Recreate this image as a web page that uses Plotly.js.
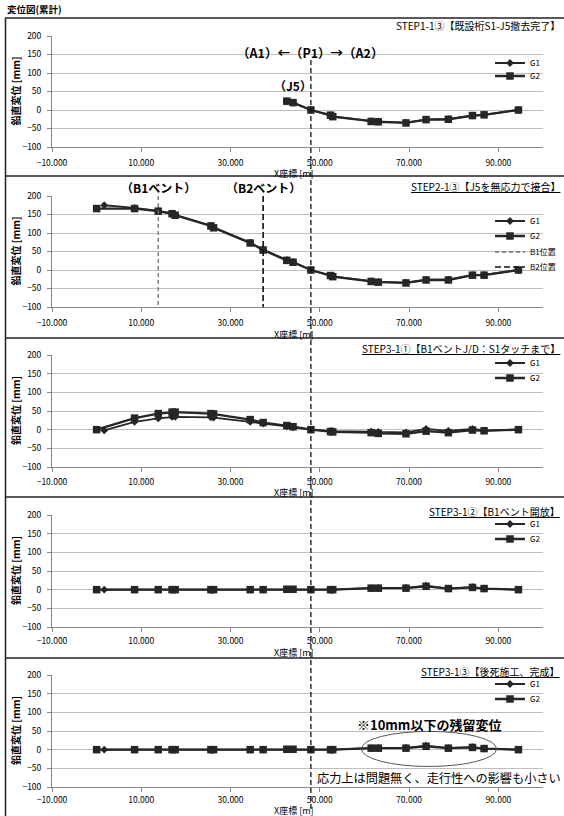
<!DOCTYPE html>
<html>
<head>
<meta charset="utf-8">
<script src="https://cdn.plot.ly/plotly-3.0.1.min.js"></script>
<style>html,body{margin:0;padding:0;background:#fff;}#chart{width:564px;height:816px;}</style>
</head>
<body>
<div id="chart"></div>
<script>
// ---------- data ----------
const xG2 = [0, 8.5, 13.8, 16.9, 17.6, 25.6, 26.2, 34.4, 37.3, 42.6, 44.0, 48.0, 52.4, 52.9, 61.5, 63.1, 69.3, 73.8, 78.8, 84.2, 86.8, 94.5];
const xG1 = [1.7, 8.5, 13.8, 16.9, 17.6, 25.6, 26.2, 34.4, 37.3, 42.6, 44.0, 48.0, 52.4, 52.9, 61.5, 63.1, 69.3, 73.8, 78.8, 84.2, 86.8, 94.5];

const panelTitles = [
  "STEP1-1③【既設桁S1-J5撤去完了】",
  "STEP2-1③【J5を無応力で接合】",
  "STEP3-1①【B1ベントJ/D：S1タッチまで】",
  "STEP3-1②【B1ベント開放】",
  "STEP3-1③【後死施工、完成】"
];

// STEP1-1③
const s1G1 = [null, null, null, null, null, null, null, null, null, 23, 20, 0, -14, -17, -30, -31, -34, -26, -25, -15, -13, 0];
const s1G2 = [null, null, null, null, null, null, null, null, null, 24, 20, 0, -14, -18, -31, -32, -35, -26, -25, -15, -13, 0];
// STEP2-1③
const s2G1 = [175, 168, 160, 153, 149, 120, 115, 74, 55, 27, 22, 0, -15, -17, -30, -32, -34, -26, -26, -14, -13, 0];
const s2G2 = [166, 166, 159, 152, 148, 119, 114, 73, 54, 26, 21, 0, -15, -18, -31, -33, -35, -27, -27, -14, -14, 0];
// STEP3-1①
const s3G1 = [-2, 21, 30, 34, 34, 33, 32, 21, 16, 9, 6, 0, -3, -4, -5, -6, -7, 2, -3, 2, -2, 0];
const s3G2 = [0, 31, 43, 47, 47, 43, 42, 27, 19, 11, 8, 0, -5, -6, -8, -10, -11, -4, -8, -1, -3, 0];
// STEP3-1②
const s4G1 = [0, 0, 0, 0, 0, 0, 0, 0, 0, 1, 1, 0, 0, 0, 4, 5, 5, 11, 3, 7, 3, 0];
const s4G2 = [0, 0, 0, 0, 0, 0, 0, 0, 0, 1, 1, 0, 0, 0, 4, 4, 4, 9, 3, 6, 3, 0];
// STEP3-1③
const s5G1 = [0, 0, 0, 0, 0, 0, 0, 0, 0, 1, 1, 0, 0, 0, 4, 5, 5, 11, 4, 7, 3, 0];
const s5G2 = [0, 0, 0, 0, 0, 0, 0, 0, 0, 1, 1, 0, 0, 0, 4, 4, 4, 9, 4, 6, 3, 0];

const g1Series = [s1G1, s2G1, s3G1, s4G1, s5G1];
const g2Series = [s1G2, s2G2, s3G2, s4G2, s5G2];

const p1X = 48.0;      // P1 pier position
const j5X = 44.0;      // J5 joint position (label)
const b1X = 13.8;      // B1 bent position
const b2X = 37.3;      // B2 bent position
const bentY = [200, -100];

// ---------- layout helpers ----------
const W = 564, H = 816;
const PX = p => p / W;
const PY = p => 1 - p / H;
const FONT = "'Noto Sans CJK JP', 'Noto Sans', sans-serif";
const INK = '#262626';
const X0 = 52, X1 = 543;

// pixel geometry of each panel
const panels = [
  {top: 36,  bot: 147, ptop: 18,  legs: [63, 76],            stand: 4, xt: 173, tt: 25},
  {top: 196, bot: 307, ptop: 176, legs: [221, 236, 252, 267], stand: 4, xt: 334, tt: 187},
  {top: 355, bot: 467, ptop: 338, legs: [363, 378],           stand: 3, xt: 492, tt: 348},
  {top: 515, bot: 627, ptop: 497, legs: [524, 539],           stand: 2, xt: 652, tt: 511},
  {top: 675, bot: 787, ptop: 658, legs: [684, 699],           stand: 1, xt: 810, tt: 671}
];

const traces = [];
const layout = {
  width: W, height: H,
  margin: {l: 0, r: 0, t: 0, b: 0},
  paper_bgcolor: '#fff', plot_bgcolor: '#fff',
  font: {family: FONT, size: 8, color: '#000'},
  showlegend: true,
  annotations: [], shapes: []
};

let legendCount = 0;
function newLegend(yc) {
  legendCount += 1;
  const id = legendCount === 1 ? 'legend' : 'legend' + legendCount;
  layout[id] = {
    x: PX(490), y: PY(yc), xanchor: 'left', yanchor: 'middle',
    bgcolor: 'rgba(0,0,0,0)', borderwidth: 0,
    font: {size: 8, family: FONT, color: '#000'},
    tracegroupgap: 0, itemwidth: 30
  };
  return id;
}

panels.forEach((p, i) => {
  const n = i === 0 ? '' : String(i + 1);
  const xa = 'xaxis' + n, ya = 'yaxis' + n;
  layout[xa] = {
    domain: [PX(X0), PX(X1)], range: [-10, 100], anchor: 'y' + n,
    tick0: -10, dtick: 20, tickformat: '.3f',
    showgrid: false, zeroline: false, showline: true, linecolor: '#868686', linewidth: 1,
    ticks: 'outside', ticklen: 4, tickcolor: '#868686',
    ticklabelstandoff: p.stand,
    tickfont: {size: 8.5, family: FONT, color: '#000'}, fixedrange: true
  };
  layout[ya] = {
    domain: [PY(p.bot), PY(p.top)], range: [-100, 200], anchor: 'x' + n,
    tick0: -100, dtick: 50,
    showgrid: true, gridcolor: '#bfbfbf', gridwidth: 1,
    zeroline: false, showline: true, linecolor: '#868686', linewidth: 1,
    ticks: 'outside', ticklen: 4, tickcolor: '#868686', ticklabelstandoff: 4,
    tickfont: {size: 8.5, family: FONT, color: '#000'}, fixedrange: true
  };
  traces.push({
    x: xG1, y: g1Series[i], name: 'G1', type: 'scatter', mode: 'lines+markers',
    xaxis: 'x' + n, yaxis: 'y' + n, legend: newLegend(p.legs[0]),
    line: {color: INK, width: 1.8},
    marker: {symbol: 'diamond', size: 6, color: INK}
  });
  traces.push({
    x: xG2, y: g2Series[i], name: 'G2', type: 'scatter', mode: 'lines+markers',
    xaxis: 'x' + n, yaxis: 'y' + n, legend: newLegend(p.legs[1]),
    line: {color: INK, width: 2.3},
    marker: {symbol: 'square', size: 7.5, color: INK}
  });
  if (i === 1) {
    traces.push({
      x: [b1X, b1X], y: bentY, name: 'B1位置', type: 'scatter', mode: 'lines',
      xaxis: 'x' + n, yaxis: 'y' + n, legend: newLegend(p.legs[2]),
      line: {color: '#707070', width: 1.3, dash: '4px,3px'}
    });
    traces.push({
      x: [b2X, b2X], y: bentY, name: 'B2位置', type: 'scatter', mode: 'lines',
      xaxis: 'x' + n, yaxis: 'y' + n, legend: newLegend(p.legs[3]),
      line: {color: '#111', width: 1.6, dash: '6px,3px'}
    });
  }
  // panel title
  layout.annotations.push({
    xref: 'paper', yref: 'paper', x: PX(562), y: PY(p.tt), xanchor: 'right', yanchor: 'middle',
    text: i === 0 ? panelTitles[i] : '<u>' + panelTitles[i] + '</u>',
    showarrow: false, font: {size: 10, family: FONT, color: '#000'}
  });
  // y title
  layout.annotations.push({
    xref: 'paper', yref: 'paper', x: PX(15), y: PY((p.top + p.bot) / 2), xanchor: 'center', yanchor: 'middle',
    text: '鉛直変位 [mm]', textangle: -90, showarrow: false,
    font: {size: 10, family: FONT, color: '#000', weight: 'bold'}
  });
  // x title
  layout.annotations.push({
    xref: 'paper', yref: 'paper', x: PX(294), y: PY(p.xt), xanchor: 'center', yanchor: 'middle',
    text: 'X座標 [m]', showarrow: false, font: {size: 9, family: FONT, color: '#000'}
  });
  // panel separator line
  layout.shapes.push({
    type: 'line', xref: 'paper', yref: 'paper', x0: PX(5), x1: 1, y0: PY(p.ptop), y1: PY(p.ptop),
    line: {color: '#222', width: 1.5}
  });
});

// outer left border
layout.shapes.push({
  type: 'line', xref: 'paper', yref: 'paper', x0: PX(5.5), x1: PX(5.5), y0: PY(18), y1: 0,
  line: {color: '#222', width: 1.5}
});
// P1 dashed line through all panels
layout.shapes.push({
  type: 'line', xref: 'x', yref: 'paper', x0: p1X, x1: p1X, y0: PY(60), y1: PY(812),
  line: {color: '#111', width: 1.3, dash: '5px,3px'}
});
// ellipse in last panel
layout.shapes.push({
  type: 'circle', xref: 'x5', yref: 'y5', x0: 59.3, x1: 89.6, y0: -45, y1: 49,
  line: {color: '#555', width: 1}
});

// figure title
layout.annotations.push({
  xref: 'paper', yref: 'paper', x: PX(5), y: PY(9), xanchor: 'left', yanchor: 'middle',
  text: '変位図(累計)', showarrow: false, font: {size: 9.5, family: FONT, color: '#000', weight: 'bold'}
});
// panel 1 labels
layout.annotations.push({
  xref: 'x', yref: 'paper', x: p1X, y: PY(53), xanchor: 'center', yanchor: 'middle',
  text: '（A1）←（P1）→（A2）', showarrow: false,
  font: {size: 12.5, family: FONT, color: '#000', weight: 'bold'}
});
layout.annotations.push({
  xref: 'x', yref: 'paper', x: j5X, y: PY(86), xanchor: 'center', yanchor: 'middle',
  text: '（J5）', showarrow: false,
  font: {size: 12, family: FONT, color: '#000', weight: 'bold'}
});
// panel 2 labels
layout.annotations.push({
  xref: 'x2', yref: 'paper', x: b1X, y: PY(188), xanchor: 'center', yanchor: 'middle',
  text: '（B1ベント）', showarrow: false,
  font: {size: 12, family: FONT, color: '#000', weight: 'bold'}
});
layout.annotations.push({
  xref: 'x2', yref: 'paper', x: b2X, y: PY(188), xanchor: 'center', yanchor: 'middle',
  text: '（B2ベント）', showarrow: false,
  font: {size: 12, family: FONT, color: '#000', weight: 'bold'}
});
// panel 5 labels
layout.annotations.push({
  xref: 'x5', yref: 'paper', x: 74.4, y: PY(724), xanchor: 'center', yanchor: 'middle',
  text: '※10mm以下の残留変位', showarrow: false,
  font: {size: 13, family: FONT, color: '#000', weight: 'bold'}
});
layout.annotations.push({
  xref: 'x5', yref: 'paper', x: p1X, xshift: 4, y: PY(778), xanchor: 'left', yanchor: 'middle',
  text: '応力上は問題無く、走行性への影響も小さい', showarrow: false,
  font: {size: 12.2, family: FONT, color: '#000'}
});

Plotly.newPlot('chart', traces, layout, {staticPlot: true, displayModeBar: false});
</script>
</body>
</html>
